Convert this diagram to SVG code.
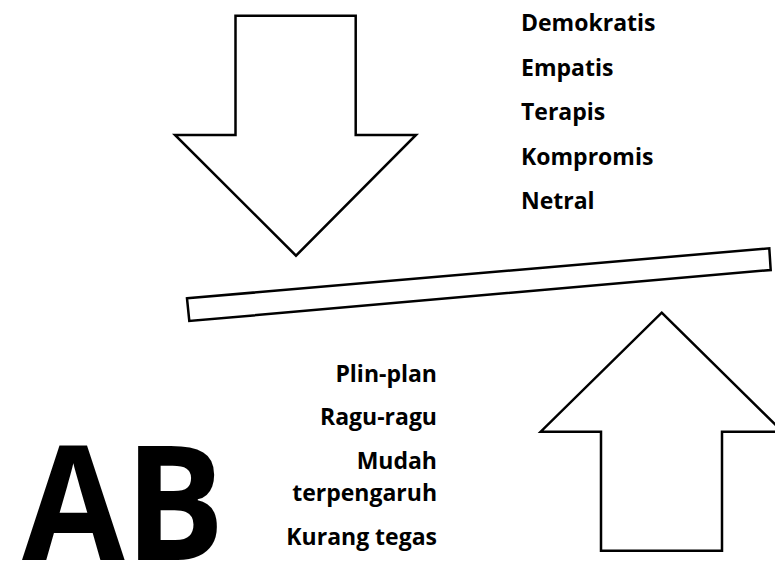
<svg xmlns="http://www.w3.org/2000/svg" width="775" height="563" viewBox="0 0 775 563">
<style>
.shape{fill:#fff;stroke:#000;stroke-width:2.5;stroke-linejoin:miter}
.t{font-family:"Open Sans","Liberation Sans",sans-serif;font-weight:bold;font-size:23px;fill:#000}
.r{text-anchor:end}
.big{font-family:"Open Sans","Liberation Sans",sans-serif;font-weight:bold;font-size:160px;fill:#000}
</style>
<rect width="775" height="563" fill="#fff"/>
<g id="down-arrow">
<polygon class="shape" points="235.5,15.7 355.7,15.7 355.7,135 416,135 296,255.7 175,135 235.5,135"/>
</g>
<g id="balance-bar">
<polygon class="shape" points="187,298.3 769.3,248.3 770.7,270 189.3,321"/>
</g>
<g id="up-arrow">
<polygon class="shape" points="661.7,312.7 782.5,431.7 722,431.7 722,550.7 601,550.7 601,431.7 540.7,431.7"/>
</g>
<g id="top-list">
<text class="t" x="521" y="31">Demokratis</text>
<text class="t" x="521" y="75.5">Empatis</text>
<text class="t" x="521" y="120">Terapis</text>
<text class="t" x="521" y="164.5">Kompromis</text>
<text class="t" x="521" y="209">Netral</text>
</g>
<g id="bottom-list">
<text class="t r" x="437" y="381.5">Plin-plan</text>
<text class="t r" x="437" y="425">Ragu-ragu</text>
<text class="t r" x="437" y="469">Mudah</text>
<text class="t r" x="437" y="501">terpengaruh</text>
<text class="t r" x="437" y="545">Kurang tegas</text>
</g>
<g id="label-ab">
<text class="big" transform="translate(22,560) scale(0.93,1)" x="0" y="0">AB</text>
</g>
</svg>
